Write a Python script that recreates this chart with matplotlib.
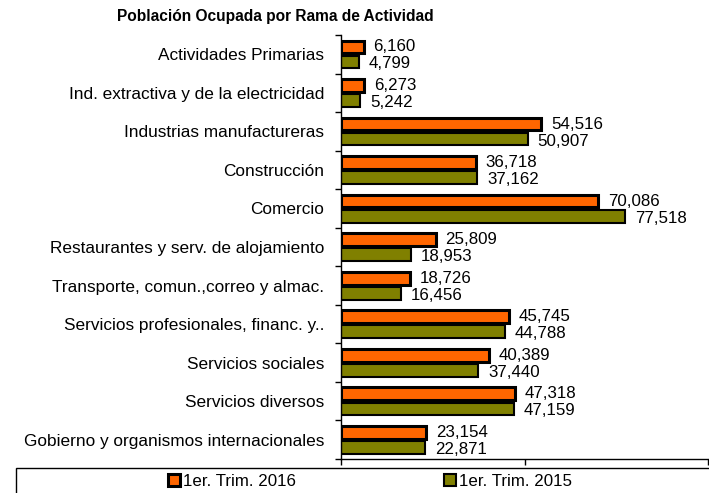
import matplotlib.pyplot as plt
import matplotlib.patches as mpatches
import numpy as np

plt.rcParams['font.family'] = ['Liberation Sans', 'DejaVu Sans']

categories = ["Actividades Primarias",
              "Ind. extractiva y de la electricidad",
              "Industrias manufactureras",
              "Construcción",
              "Comercio",
              "Restaurantes y serv. de alojamiento",
              "Transporte, comun.,correo y almac.",
              "Servicios profesionales, financ. y..",
              "Servicios sociales",
              "Servicios diversos",
              "Gobierno y organismos internacionales"]
trim_2016 = [6160, 6273, 54516, 36718, 70086, 25809, 18726, 45745, 40389, 47318, 23154]
trim_2015 = [4799, 5242, 50907, 37162, 77518, 18953, 16456, 44788, 37440, 47159, 22871]
series_names = ["1er. Trim. 2016", "1er. Trim. 2015"]

fig = plt.figure(figsize=(7.09, 4.93), dpi=100)
ax = fig.add_axes([341 / 709, 1 - 459 / 493, 367 / 709, 424 / 493])

y = np.arange(len(categories))
h = 0.33
b1 = ax.barh(y - 0.19, trim_2016, height=h, color="#FF6600", edgecolor="black",
             linewidth=2.2, label=series_names[0])
b2 = ax.barh(y + 0.2, trim_2015, height=h, color="#808000", edgecolor="black",
             linewidth=1.5, label=series_names[1])

for rect, v in zip(b1, trim_2016):
    ax.annotate(f"{v:,}", (v, rect.get_y() + rect.get_height() / 2), xytext=(7, 0),
                textcoords="offset points", va="center", ha="left", fontsize=12.2)
for rect, v in zip(b2, trim_2015):
    ax.annotate(f"{v:,}", (v, rect.get_y() + rect.get_height() / 2 + 0.05), xytext=(7, 0),
                textcoords="offset points", va="center", ha="left", fontsize=12.2)

ax.set_xlim(0, 100000)
ax.set_ylim(len(categories) - 0.5, -0.5)
ax.set_xticks([0, 50000, 100000])
ax.set_xticklabels([])
ax.tick_params(axis="x", direction="out", length=4, width=1)

ax.set_yticks(y)
ax.set_yticklabels(categories, fontsize=12.4)
ax.set_yticks(np.arange(-0.5, len(categories), 1), minor=True)
ax.tick_params(axis="y", which="major", length=0, pad=12)
ax.tick_params(axis="y", which="minor", length=4, width=1, direction="out")

for s in ["top", "right"]:
    ax.spines[s].set_visible(False)
ax.spines["left"].set_linewidth(1)
ax.spines["bottom"].set_linewidth(1)

fig.text(275 / 709, 1 - 17 / 493, "Población Ocupada por Rama de Actividad",
         ha="center", va="center", fontsize=11.2, fontweight="bold")

# legend box (runs off the right and bottom edges like the original)
box = mpatches.Rectangle((16 / 709, -0.05), 1.0, (25 / 493) + 0.05,
                         transform=fig.transFigure, fill=False, edgecolor="black",
                         linewidth=1, clip_on=False)
fig.add_artist(box)

leg = fig.legend(handles=[b1, b2], labels=series_names, loc="center",
                 bbox_to_anchor=(370 / 709, 1 - 481 / 493), ncol=2, frameon=False,
                 fontsize=12.2, handlelength=0.7, handleheight=0.7, handletextpad=0.2,
                 columnspacing=8.7, borderpad=0)

fig.savefig("out.png", dpi=100)
